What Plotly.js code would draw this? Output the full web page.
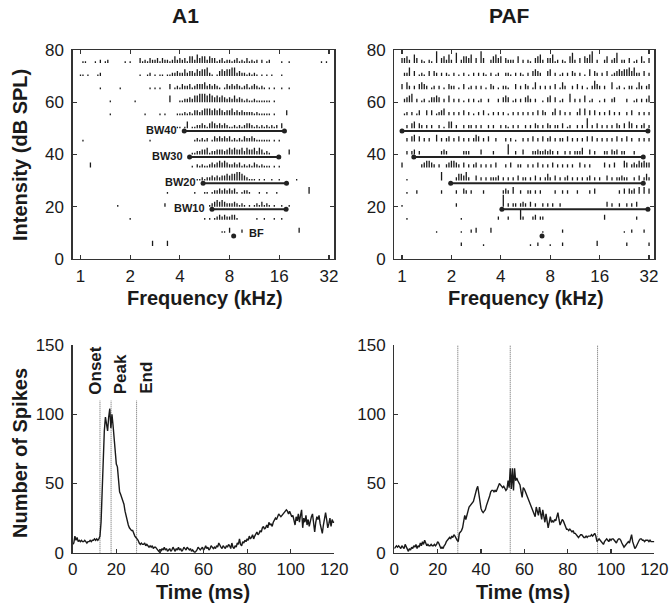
<!DOCTYPE html>
<html>
<head>
<meta charset="utf-8">
<script src="https://cdn.plot.ly/plotly-3.0.1.min.js"></script>
<style>
  html, body { margin: 0; padding: 0; background: #fff; }
  #fig { width: 669px; height: 605px; }
</style>
</head>
<body>
<div id="fig"></div>
<script>
// ---- Frequency response areas (spike rasters) ----
// Stimulus levels (dB SPL), one raster row each, top to bottom.
const levels = [75, 70, 65, 60, 55, 50, 45, 40, 35, 30, 25, 20, 15, 10, 5];
// Tone frequencies start at 1 kHz with this many steps per octave.
const STEPS_PER_OCTAVE = 20;
// Spike counts per frequency step ('.' = no spike), one string per level.
const a1Counts = [
  ".11...1.2. 12......1. 1...312132 2313221242 3231442534 4243312312 2123121312 12.2.12... .1..1..... .......1.1 .",
  "11.1...12. .......... ....1..12. 1.11.11223 2242332434 4521.13434 4552322121 21.1.1.1.. .1........ .......... .",
  "........1. ......1... ........1. 1.1...3.12 1322312333 4232321.13 2323212312 32121.1.1. .1..1..... .......... .",
  ".......... ..1....... ..1....... ......4... 1122324455 5454343432 3242321211 2111111.1. .......... .......... .",
  ".......... ..1....... ......1... ..1.1....1 1121213323 4443434323 3423232222 1211111.1. ...3...... .......... .",
  ".......... .......... .......... .........1 1.14.11223 2134323232 1121212332 1212121212 .3........ .......... .",
  ".1........ .......... ........1. .......... ......1212 12.1323232 3121213223 2111111.1. 1......... .......... .",
  ".......... .......... .......... .......... .....11223 3412233323 4343342433 4243121... ....3..... .......... .",
  "....3..... .......... .......... .......... .....1.212 1123234343 2232312121 3212111.1. 1......... .......... .",
  ".......... .......... .......... .......... .......112 1223232334 3445543211 1.1.1..1.. 1......1.. .......... .",
  ".......... .......... .......... .....1.... ......1... 11.1223232 3231.1221. ..1..1...1 .......... ..4....... .",
  ".......... .....1.... .......... ....2..... .......... ..12343432 2232121.1. 1213121.1. .1..1..... .......... .",
  ".......... .......... 1......... .......... .......... 1.1.123232 2331...... .1..1...1. .1........ .......... .",
  ".......... .......... .......... .......... .......... .......11. 3....2.... .......... ........3. .......... .",
  ".......... .......... .........3 .....3.... .......... .......... .......... .......... .......... .......... ."
];
const pafCounts = [
  "3342.53.21 .21.7.3425 2.6.24435. 3.73..2453 4.3222.4.2 .21.3452.3 3512.21.46 2.3.4357.2 ..24.236.2 2.3.12.41. 3",
  ".225.3.121 .3.32.2.21 .2.1.2.1.2 .2.21.2.12 ..221.2.21 .2.3432..3 4.2.12.2.3 2.2.1.4.32 .2.3.12343 4453522.3. 2",
  "3.42.2.343 2.12.2.1.3 22.1.3.12. 2.2.1.32.1 .221..3.2. 32.14.2.2. 2.3.142..2 .3.2.1.253 2.2..4.12. 1.22.142.2 3",
  ".2345.2.12 .13343.2.4 .2.2.1.2.2 .12..2...2 .343.12.2. 342.2..1.3 4.3.12..5. 2.2.4.12.. 1.2..23... .2..12.2.2 4",
  ".12.2.13.. 3.3.1234.2 .2.2.3.2.1 .2.3.1.2.2 .2.1.2.2.2 .2.2.3.32. .24.3.2.2. .24.4.3.3. 2.2.3.2.2. .2.3..2.2. 2",
  "..2.34.32. 2.2..2.1.4 4.2..2.22. 2.2..2.2.. 2.21.2.2.. 2.2.32.2.3 2.22.3.12. .2.2.6.2.3 .2.2.2.32. 3.43.2.23. 2",
  "..2.34.3.2 .2..4.2.23 .2.3.2.2.2 43.2.3..2. ..2.2.1..2 .2.3.2.3.2 3.2.22.3.2 .2.2.3.3.2 .2.2.2.3.2 .3.2..2.2. 2",
  "..2.23.2.. ......232. .....222.. ..3....2.. ...6..2..3 ...2232232 32.2..2.2. 2224..3.2. ..22.323.2 2...2..... .",
  "3.......23 4432.2..23 4432.3.2.2 3.2.2.2.3. ..2.3..22. .2.2.3.2.2 .3.2.2.2.2 ..3.2.2... ..3.2.3... 43.2324343 3",
  "..1....... ......5... ..244352.. 3.2.2.2223 .2.2.2.3.2 2.2.3.2.24 2.3.2.23.2 .2.2.23.2. 2..3.2.223 22..2.3.24 2",
  "..1...2... ......2... ..2..32.2. ...2...... .232.4..2. .22.2.2... ..2..2.2.. .2....2.3. ........2. 3.323.4.4. 3",
  "1......... .......... ..2....... .......... .7.2.22.23 2.3.2..2.2 .2..2..... .......... ...3.2..2. .2.2.3.... .",
  "..1....... .......... ....1..... .........2 ...2....62 ...23.22.. .......... .......... ..3....... .....2.... .",
  ".......... ....1..... ....1...2. 3.....3... .......... .......1.. .....2.... .......... .......... 1..2....2. .",
  ".......... .......... ....2..... ...1...... .......... ..1..2.... 1....2.... .........3 .......... .2........ 2"
];
// Tick height per spike, in dB on the intensity axis.
const DB_PER_SPIKE = 0.65;

// Bandwidths 10-40 dB above threshold: level, low and high edge (kHz).
const bwNames = ["BW40", "BW30", "BW20", "BW10"];
const bwLevels = [49, 39, 29, 19];
const a1BwLow = [4.25, 4.58, 5.53, 6.26];
const a1BwHigh = [17.2, 15.9, 17.7, 17.6];
const pafBwLow = [1.0, 1.18, 1.98, 4.06];
const pafBwHigh = [31.5, 29.5, 29.5, 31.5];
// Best frequency (kHz) at threshold (dB SPL).
const a1Bf = 8.47, pafBf = 7.13, bfLevel = 8.8;

// ---- Post-stimulus time histograms ----
const BIN_MS = 0.5;
const a1Spikes = [
  6, 7, 12, 9, 11, 8, 9, 8, 9, 8,
  8, 9, 8, 7, 8, 8, 9, 8, 9, 9,
  10, 9, 10, 9, 10, 12, 22, 48, 72, 88,
  98, 92, 88, 98, 104, 90, 100, 92, 82, 70,
  64, 62, 50, 44, 42, 40, 37, 35, 30, 26,
  22, 20, 18, 17, 16, 16, 13, 12, 11, 10,
  9, 7, 6, 7, 6, 6, 7, 5, 6, 5,
  4, 5, 4, 5, 3, 4, 4, 3, 2, 1,
  2, 1, 3, 2, 4, 2, 3, 1, 2, 3,
  1, 2, 4, 2, 1, 3, 2, 4, 2, 3,
  1, 2, 4, 3, 2, 4, 3, 2, 3, 1,
  2, 1, 0, 1, 2, 4, 3, 2, 3, 4,
  2, 3, 5, 3, 4, 2, 3, 5, 4, 3,
  4, 3, 5, 4, 7, 5, 4, 3, 5, 4,
  3, 5, 4, 6, 5, 3, 7, 4, 3, 5,
  4, 7, 6, 10, 6, 5, 8, 7, 9, 8,
  10, 9, 12, 10, 11, 13, 10, 12, 14, 15,
  13, 14, 16, 15, 18, 19, 17, 18, 20, 18,
  22, 20, 21, 19, 22, 24, 25, 24, 26, 28,
  27, 26, 27, 28, 29, 30, 31, 30, 28, 30,
  28, 26, 27, 24, 20, 26, 23, 28, 22, 27,
  31, 18, 25, 22, 27, 20, 24, 19, 23, 26,
  28, 20, 15, 22, 26, 24, 27, 21, 17, 14,
  20, 25, 29, 24, 18, 21, 25, 19, 24, 22,
  22
];
const pafSpikes = [
  3, 4, 5, 4, 5, 4, 3, 5, 4, 3,
  6, 4, 2, 1, 3, 2, 4, 3, 5, 4,
  6, 3, 5, 4, 7, 5, 8, 6, 9, 6,
  5, 6, 5, 5, 6, 5, 5, 6, 5, 6,
  8, 7, 5, 3, 4, 3, 5, 6, 8, 9,
  10, 11, 10, 12, 11, 13, 12, 10, 9, 8,
  14, 15, 16, 18, 22, 27, 24, 28, 30, 33,
  34, 35, 36, 37, 40, 44, 46, 48, 42, 36,
  32, 30, 29, 30, 31, 34, 36, 38, 41, 44,
  45, 45, 44, 45, 44, 46, 48, 50, 49, 48,
  47, 48, 46, 45, 46, 52, 47, 61, 46, 61,
  45, 61, 52, 54, 52, 50, 49, 44, 40, 47,
  46, 44, 42, 40, 38, 36, 34, 32, 30, 28,
  26, 33, 30, 27, 33, 28, 24, 31, 26, 22,
  28, 24, 18, 22, 26, 22, 23, 22, 24, 23,
  26, 29, 24, 20, 22, 24, 23, 21, 19, 17,
  17, 16, 17, 16, 15, 16, 14, 14, 13, 12,
  11, 12, 13, 13, 12, 11, 11, 12, 11, 12,
  12, 12, 13, 12, 13, 14, 12, 8, 9, 10,
  9, 8, 7, 6, 8, 9, 10, 9, 8, 10,
  9, 10, 10, 9, 8, 7, 9, 10, 10, 9,
  7, 5, 4, 5, 6, 7, 8, 7, 10, 13,
  8, 5, 3, 4, 6, 8, 9, 10, 10, 9,
  9, 8, 9, 9, 9, 8, 9, 8, 8, 8,
  8
];
// Response window markers (ms): onset, peak, end.
const a1Markers = [12.5, 17.6, 29.3];
const pafMarkers = [29.3, 53.5, 93.8];
const markerLabels = ["Onset", "Peak", "End"];
const a1MarkerTop = 110, pafMarkerTop = 150;

const INK = "#1a1a1a";

function rasterTrace(counts, xa, ya) {
  const xs = [], ys = [];
  counts.forEach((row, r) => {
    const cells = row.replace(/ /g, "");
    for (let i = 0; i < cells.length; i++) {
      if (cells[i] === ".") continue;
      const f = Math.pow(2, i / STEPS_PER_OCTAVE);
      xs.push(f, f, null);
      ys.push(levels[r], levels[r] + Number(cells[i]) * DB_PER_SPIKE, null);
    }
  });
  return { type: "scatter", mode: "lines", x: xs, y: ys, xaxis: xa, yaxis: ya,
           line: { color: INK, width: 1.3 }, hoverinfo: "skip" };
}

function bandTrace(lo, hi, xa, ya) {
  const xs = [], ys = [];
  bwLevels.forEach((lv, k) => { xs.push(lo[k], hi[k], null); ys.push(lv, lv, null); });
  return { type: "scatter", mode: "lines+markers", x: xs, y: ys, xaxis: xa, yaxis: ya,
           line: { color: "#222", width: 2 }, marker: { color: "#222", size: 5 },
           hoverinfo: "skip" };
}

function bfTrace(bf, xa, ya) {
  return { type: "scatter", mode: "markers", x: [bf], y: [bfLevel], xaxis: xa, yaxis: ya,
           marker: { color: "#222", size: 5 }, hoverinfo: "skip" };
}

function psthTrace(spikes, xa, ya) {
  return { type: "scatter", mode: "lines", x: spikes.map((_, k) => k * BIN_MS), y: spikes,
           xaxis: xa, yaxis: ya, line: { color: INK, width: 1.4 }, hoverinfo: "skip" };
}

function markerTrace(times, top, xa, ya) {
  const xs = [], ys = [];
  times.forEach(t => { xs.push(t, t, null); ys.push(0, top, null); });
  return { type: "scatter", mode: "lines", x: xs, y: ys, xaxis: xa, yaxis: ya,
           line: { color: "#666", width: 1, dash: "1px,1px" }, hoverinfo: "skip" };
}

const data = [
  markerTrace(a1Markers, a1MarkerTop, "x3", "y3"),
  markerTrace(pafMarkers, pafMarkerTop, "x4", "y4"),
  rasterTrace(a1Counts, "x", "y"),
  bandTrace(a1BwLow, a1BwHigh, "x", "y"),
  bfTrace(a1Bf, "x", "y"),
  rasterTrace(pafCounts, "x2", "y2"),
  bandTrace(pafBwLow, pafBwHigh, "x2", "y2"),
  bfTrace(pafBf, "x2", "y2"),
  psthTrace(a1Spikes, "x3", "y3"),
  psthTrace(pafSpikes, "x4", "y4")
];

const freqTicks = [1, 2, 4, 8, 16, 32];
const axisBase = {
  showline: true, linecolor: "#333", linewidth: 1.3, showgrid: false, zeroline: false,
  ticks: "inside", ticklen: 4, tickcolor: "#333", tickwidth: 1.2,
  tickfont: { size: 17, color: INK }, fixedrange: true
};
const freqAxis = (dom, anchor) => Object.assign({}, axisBase, {
  type: "log", domain: dom, anchor: anchor, range: [-0.047, 1.5375],
  tickvals: freqTicks, ticktext: freqTicks.map(String), mirror: "ticks", ticklabelstandoff: 1
});
const levelAxis = (dom, anchor) => Object.assign({}, axisBase, {
  domain: dom, anchor: anchor, range: [0, 80], tickvals: [0, 20, 40, 60, 80],
  mirror: "ticks", ticklabelstandoff: 4
});
const timeAxis = (dom, anchor) => Object.assign({}, axisBase, {
  domain: dom, anchor: anchor, range: [0, 120], tickvals: [0, 20, 40, 60, 80, 100, 120],
  ticklabelstandoff: 1
});
const countAxis = (dom, anchor) => Object.assign({}, axisBase, {
  domain: dom, anchor: anchor, range: [0, 150], tickvals: [0, 50, 100, 150],
  ticklabelstandoff: 4
});

const leftX = [0.1087, 0.4997], rightX = [0.5894, 0.9781];
const topY = [0.5719, 0.9174], botY = [0.0864, 0.4298];

const annotations = [];
const txt = (text, x, y, size, extra) => annotations.push(Object.assign({
  text: text, x: x, y: y, xref: "paper", yref: "paper", showarrow: false,
  xanchor: "center", yanchor: "middle", font: { size: size, color: INK }
}, extra || {}));

txt("<b>A1</b>", 0.278, 0.9736, 21);
txt("<b>PAF</b>", 0.7623, 0.9736, 21);
txt("<b>Intensity (dB SPL)</b>", 0.0299, 0.7438, 20, { textangle: -90 });
txt("<b>Number of Spikes</b>", 0.0299, 0.2512, 20, { textangle: -90 });
txt("<b>Frequency (kHz)</b>", 0.306, 0.5074, 20);
txt("<b>Frequency (kHz)</b>", 0.786, 0.5074, 20);
txt("<b>Time (ms)</b>", 0.303, 0.0215, 20);
txt("<b>Time (ms)</b>", 0.782, 0.0215, 20);

// Bandwidth labels sit just left of each A1 bandwidth line.
bwNames.forEach((name, k) => annotations.push({
  text: "<b>" + name + "</b>", x: Math.log10(a1BwLow[k]), y: bwLevels[k], xref: "x", yref: "y",
  showarrow: false, xanchor: "right", yanchor: "middle", xshift: -5, yshift: 1,
  font: { size: 11, color: INK }
}));
annotations.push({
  text: "<b>BF</b>", x: Math.log10(a1Bf), y: bfLevel, xref: "x", yref: "y", showarrow: false,
  xanchor: "left", yanchor: "middle", xshift: 13, yshift: 3, font: { size: 11, color: INK }
});
// Response window labels above the A1 marker lines.
const labelShift = [-4, 9, 10];
markerLabels.forEach((name, k) => annotations.push({
  text: "<b>" + name + "</b>", x: a1Markers[k], y: a1MarkerTop + 3, xref: "x3", yref: "y3",
  showarrow: false, textangle: -90, xanchor: "center", yanchor: "bottom", xshift: labelShift[k],
  font: { size: 17, color: INK }
}));

const layout = {
  width: 669, height: 605,
  margin: { l: 0, r: 0, t: 0, b: 0 },
  paper_bgcolor: "#fff", plot_bgcolor: "#fff",
  showlegend: false,
  font: { family: "Liberation Sans, Arial, sans-serif", size: 16, color: INK },
  xaxis: freqAxis(leftX, "y"), yaxis: levelAxis(topY, "x"),
  xaxis2: freqAxis(rightX, "y2"), yaxis2: levelAxis(topY, "x2"),
  xaxis3: timeAxis(leftX, "y3"), yaxis3: countAxis(botY, "x3"),
  xaxis4: timeAxis(rightX, "y4"), yaxis4: countAxis(botY, "x4"),
  annotations: annotations
};

Plotly.newPlot("fig", data, layout, { staticPlot: true, displayModeBar: false });
</script>
</body>
</html>
